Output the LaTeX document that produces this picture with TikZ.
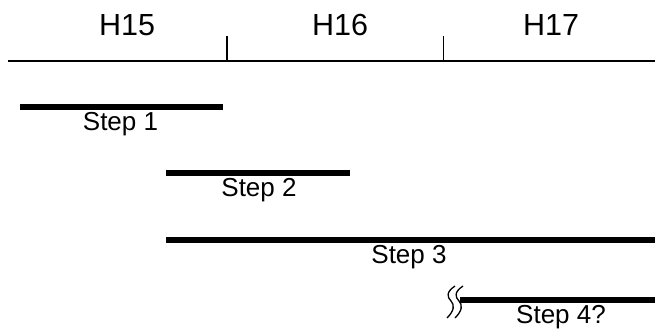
\documentclass[tikz,border=0pt]{standalone}
\usepackage{fontspec}
\setmainfont{Liberation Sans}
\begin{document}
\begin{tikzpicture}[x=1pt,y=-1pt,
  axis/.style={line width=2pt},
  tickline/.style={line width=1.5pt},
  bar/.style={line width=5.5pt},
  breakline/.style={line width=1.3pt},
  hlabel/.style={font=\fontsize{30.5}{36}\selectfont, inner sep=0pt},
  steplabel/.style={font=\fontsize{26}{30}\selectfont, inner sep=0pt, anchor=base}]
\useasboundingbox (0,0) rectangle (655,332);
% axis
\coordinate (axL) at (8,61);
\coordinate (axR) at (655,61);
\draw[axis] (axL) -- (axR);
\coordinate (t1b) at (227,61);
\coordinate (t1t) at (227,36);
\coordinate (t2b) at (443.5,61);
\coordinate (t2t) at (443.5,36);
\draw[tickline] (t1b) -- (t1t);
\draw[tickline] (t2b) -- (t2t);
\node[hlabel] (h15) at (127,25.5) {H15};
\node[hlabel] (h16) at (340,25.5) {H16};
\node[hlabel] (h17) at (551,25.5) {H17};
% bars
\coordinate (s1a) at (20,107);
\coordinate (s1b) at (223,107);
\coordinate (s2a) at (166,173);
\coordinate (s2b) at (350,173);
\coordinate (s3a) at (166,240);
\coordinate (s3b) at (655,240);
\coordinate (s4a) at (460,300);
\coordinate (s4b) at (655,300);
\draw[bar] (s1a) -- (s1b);
\draw[bar] (s2a) -- (s2b);
\draw[bar] (s3a) -- (s3b);
\draw[bar] (s4a) -- (s4b);
\node[steplabel] (l1) at (120.5,130) {Step 1};
\node[steplabel] (l2) at (259,196) {Step 2};
\node[steplabel] (l3) at (409,263) {Step 3};
\node[steplabel] (l4) at (561,323) {Step 4?};
% break mark
\draw[breakline] (455,286) .. controls (446,292) and (447,297) .. (451,301)
  .. controls (455,305) and (454,311) .. (447,318);
\draw[breakline] (463,286) .. controls (454,292) and (455,297) .. (459,301)
  .. controls (463,305) and (462,311) .. (455,318);
\end{tikzpicture}
\end{document}
